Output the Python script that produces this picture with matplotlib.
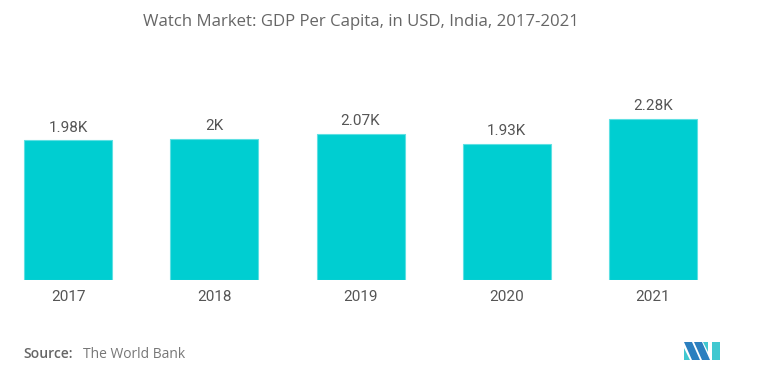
import matplotlib
matplotlib.use("Agg")
import matplotlib.pyplot as plt
from matplotlib.patches import Polygon

years = ["2017", "2018", "2019", "2020", "2021"]
gdp_k = [1.98, 2.00, 2.07, 1.93, 2.28]
value_labels = ["1.98K", "2K", "2.07K", "1.93K", "2.28K"]

W, H = 762, 376
fig = plt.figure(figsize=(W / 100, H / 100), dpi=100)
fig.patch.set_facecolor("white")

bottom_px, top_px = 280, 100
ax = fig.add_axes([0, 1 - bottom_px / H, 1, (bottom_px - top_px) / H])
step = 146.25
x0 = 68
ax.set_xlim(-x0 / step, (W - x0) / step)
px_per_k = 70.6
ax.set_ylim(0, (bottom_px - top_px) / px_per_k)

xs = list(range(len(years)))
bars = ax.bar(xs, gdp_k, width=88 / step, color="#00CED1", edgecolor="#5EE0E3", linewidth=0.8)
for x, v, lab in zip(xs, gdp_k, value_labels):
    ax.annotate(lab, (x, v), xytext=(0, 4), textcoords="offset points",
                ha="center", va="bottom", fontsize=11, color="#555555", family="Roboto")

ax.set_xticks(xs)
ax.set_xticklabels(years, fontsize=11, color="#555555", family="Roboto")
ax.tick_params(axis="x", length=0, pad=7)
ax.set_yticks([])
for s in ax.spines.values():
    s.set_visible(False)

fig.text(361 / W, 1 - 22 / H, "Watch Market: GDP Per Capita, in USD, India, 2017-2021",
         ha="center", va="center", fontsize=12.1, color="#666666", family="Open Sans")
fig.text(23 / W, 1 - 354 / H, "Source:", ha="left", va="center", fontsize=10,
         color="#666666", family="Open Sans", fontweight="semibold")
fig.text(83 / W, 1 - 354 / H, "The World Bank", ha="left", va="center", fontsize=10,
         color="#777777", family="Open Sans")

# logo
def P(pts, c):
    fig.patches.append(Polygon([(x / W, 1 - y / H) for x, y in pts], closed=True,
                               transform=fig.transFigure, facecolor=c, edgecolor="none"))
P([(684, 342), (692, 342), (700, 360), (692, 360)], "#2B7FBF")
P([(684, 348), (690, 360), (684, 360)], "#40C8D0")
P([(694, 342), (702, 342), (710, 360), (702, 360)], "#2B7FBF")
P([(703, 342), (708, 342), (708, 352)], "#40C8D0")
P([(712, 342), (720, 342), (720, 360), (712, 360)], "#40C8D0")

fig.savefig("out.png", dpi=100)
